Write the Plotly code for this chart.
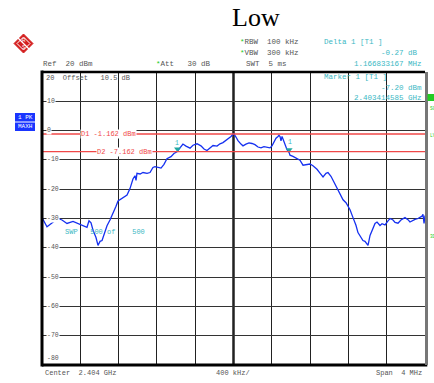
import plotly.graph_objects as go

# ---- data (frequency in MHz, level in dBm) ----
freq_mhz = [2402.000, 2402.052, 2402.104, 2402.167, 2402.209, 2402.261, 2402.324, 2402.376,
            2402.418, 2402.470, 2402.491, 2402.512, 2402.533, 2402.564, 2402.585, 2402.606,
            2402.627, 2402.658, 2402.679, 2402.710, 2402.741, 2402.773, 2402.794, 2402.836,
            2402.888, 2402.919, 2402.950, 2402.971, 2402.982, 2402.992, 2403.024, 2403.055,
            2403.097, 2403.128, 2403.159, 2403.180, 2403.211, 2403.243, 2403.274, 2403.305,
            2403.347, 2403.378, 2403.410, 2403.441, 2403.472, 2403.504, 2403.525, 2403.546,
            2403.577, 2403.619, 2403.660, 2403.692, 2403.723, 2403.754, 2403.786, 2403.828,
            2403.859, 2403.890, 2403.921, 2403.943, 2403.974, 2403.995, 2404.005, 2404.026,
            2404.047, 2404.078, 2404.099, 2404.130, 2404.162, 2404.193, 2404.224, 2404.256,
            2404.287, 2404.318, 2404.349, 2404.381, 2404.402, 2404.423, 2404.444, 2404.465,
            2404.475, 2404.486, 2404.496, 2404.507, 2404.517, 2404.538, 2404.559, 2404.581,
            2404.590, 2404.621, 2404.652, 2404.694, 2404.726, 2404.757, 2404.799, 2404.830,
            2404.872, 2404.903, 2404.935, 2404.966, 2404.987, 2405.018, 2405.039, 2405.060,
            2405.081, 2405.112, 2405.144, 2405.175, 2405.196, 2405.217, 2405.248, 2405.279,
            2405.300, 2405.321, 2405.352, 2405.373, 2405.405, 2405.426, 2405.446, 2405.478,
            2405.499, 2405.530, 2405.551, 2405.582, 2405.614, 2405.635, 2405.666, 2405.687,
            2405.718, 2405.749, 2405.791, 2405.822, 2405.843, 2405.875, 2405.896, 2405.927,
            2405.948, 2405.969, 2405.979, 2405.990, 2406.000]
level_dbm = [-29.7, -32.8, -31.5, -30.0, -30.5, -31.7, -31.0, -31.8,
             -32.4, -33.0, -30.8, -31.5, -34.0, -36.5, -39.2, -37.8,
             -37.5, -34.5, -32.5, -30.5, -28.4, -25.8, -24.0, -23.0,
             -22.0, -19.8, -16.5, -15.4, -17.0, -14.6, -14.8, -14.3,
             -14.6, -14.3, -12.6, -12.3, -12.5, -12.8, -11.5, -9.6,
             -8.9, -7.8, -7.2, -5.8, -4.6, -5.3, -5.8, -6.0,
             -5.0, -4.5, -5.2, -6.3, -6.8, -5.8, -5.1, -5.3,
             -4.5, -4.1, -3.4, -2.7, -2.0, -1.3, -1.16, -2.2,
             -3.4, -4.6, -5.2, -4.6, -4.2, -4.4, -4.8, -5.6,
             -5.9, -5.5, -5.8, -5.9, -5.2, -3.6, -2.6, -2.0,
             -1.6, -2.0, -3.5, -2.0, -2.8, -4.6, -6.5, -7.47,
             -8.4, -8.8, -9.3, -10.1, -11.8, -11.6, -11.4, -12.0,
             -13.2, -14.5, -15.8, -14.6, -14.3, -15.6, -17.0, -18.2,
             -19.5, -21.3, -23.6, -24.6, -25.6, -27.0, -29.7, -32.3,
             -34.8, -36.0, -37.5, -37.8, -39.2, -35.8, -34.0, -31.7,
             -31.2, -32.4, -31.8, -32.2, -30.8, -30.0, -30.5, -31.3,
             -31.6, -30.5, -29.7, -30.4, -31.2, -30.6, -30.3, -30.0,
             -29.5, -29.2, -28.6, -31.7, -29.0]

marker_freq = [2403.414585, 2404.581418]
marker_level = [-7.20, -7.47]
display_lines = [-1.162, -7.162]
display_labels = ["D1 -1.162 dBm", "D2 -7.162 dBm"]
y_ticks = [10, 0, -10, -20, -30, -40, -50, -60, -70]
y_tick_labels = ["10", "0", "-10", "-20", "-30", "-40", "-50", "-60", "-70"]

W, H = 434, 383
L, R, T, B = 42, 9, 72, 18
PW, PH = W - L - R, H - T - B


def px(x):
    return (x - L) / PW


def py(y):
    return (H - B - y) / PH


MONO = "Liberation Mono, Courier New, monospace"
CYAN = "#3bb8c4"
GRAY = "#555555"
RED = "#f04848"
GREEN = "#22cc22"

fig = go.Figure()

fig.add_trace(go.Scatter(x=freq_mhz, y=level_dbm, mode="lines",
                         line=dict(color="#1530f0", width=1.3), showlegend=False,
                         hoverinfo="skip"))
fig.add_trace(go.Scatter(x=marker_freq, y=[v + 0.9 for v in marker_level], mode="markers",
                         marker=dict(symbol="triangle-down", size=6, color="#20a8a0"),
                         showlegend=False, hoverinfo="skip"))

shapes = []
for v in display_lines:
    shapes.append(dict(type="line", xref="paper", yref="y", x0=0, x1=1, y0=v, y1=v,
                       line=dict(color=RED, width=1.3), layer="above"))
shapes.append(dict(type="line", xref="paper", yref="paper", x0=0.5, x1=0.5, y0=0, y1=1,
                   line=dict(color="#111111", width=2.4), layer="below"))
shapes.append(dict(type="line", xref="paper", yref="paper", x0=0, x1=0, y0=-0.005, y1=1.005,
                   line=dict(color="#000000", width=3)))
shapes.append(dict(type="line", xref="paper", yref="paper", x0=0, x1=1, y0=1, y1=1,
                   line=dict(color="#000000", width=2.5)))
shapes.append(dict(type="line", xref="paper", yref="paper", x0=0, x1=1.006, y0=0, y1=0,
                   line=dict(color="#000000", width=3)))
shapes.append(dict(type="line", xref="paper", yref="paper", x0=px(426.5), x1=px(426.5), y0=0, y1=1,
                   line=dict(color="#777777", width=3)))
# R&S logo
shapes.append(dict(type="path", xref="paper", yref="paper",
                   path=f"M {px(23.5)} {py(34)} L {px(33)} {py(43.5)} L {px(23.5)} {py(53)} L {px(14)} {py(43.5)} Z",
                   fillcolor="#d42020", line=dict(color="#d42020", width=1)))
shapes.append(dict(type="path", xref="paper", yref="paper",
                   path=f"M {px(23.5)} {py(37)} L {px(30)} {py(43.5)} L {px(23.5)} {py(50)} L {px(17)} {py(43.5)} Z",
                   fillcolor="rgba(0,0,0,0)", line=dict(color="white", width=1)))
shapes.append(dict(type="line", xref="paper", yref="paper", x0=px(17), y0=py(37), x1=px(30), y1=py(50),
                   line=dict(color="white", width=1.2)))
shapes.append(dict(type="rect", xref="paper", yref="paper", x0=px(427.5), x1=px(436), y0=py(101), y1=py(94),
                   fillcolor=GREEN, line=dict(width=0)))
shapes.append(dict(type="rect", xref="paper", yref="paper", x0=px(15), x1=px(35), y0=py(131), y1=py(113),
                   fillcolor="#1a35ff", line=dict(width=0)))
shapes.append(dict(type="line", xref="paper", yref="paper", x0=px(15), x1=px(35), y0=py(122), y1=py(122),
                   line=dict(color="white", width=1)))

ann = []


def txt(x, y, s, color=GRAY, size=7.5, xanchor="left", yanchor="middle", font=MONO, bg=None, xref="paper", yref="paper"):
    d = dict(x=x, y=y, xref=xref, yref=yref, text=s, showarrow=False, xanchor=xanchor,
             yanchor=yanchor, font=dict(family=font, size=size, color=color), borderpad=0)
    if bg:
        d["bgcolor"] = bg
    ann.append(d)


txt(px(256), py(17), "Low", color="#000000", size=26, xanchor="center",
    font="Liberation Serif, Times New Roman, serif")

txt(px(42), py(64), "Ref&nbsp;&nbsp;20&nbsp;dBm")
txt(px(155), py(64), "<span style='color:#22cc22'>*</span>Att&nbsp;&nbsp;&nbsp;30&nbsp;dB")
txt(px(239), py(42), "<span style='color:#22cc22'>*</span>RBW&nbsp;&nbsp;100&nbsp;kHz")
txt(px(239), py(53), "<span style='color:#22cc22'>*</span>VBW&nbsp;&nbsp;300&nbsp;kHz")
txt(px(245), py(64), "SWT&nbsp;&nbsp;5&nbsp;ms")
txt(px(323), py(42), "Delta&nbsp;1&nbsp;[T1&nbsp;]", color=CYAN)
txt(px(419), py(53), "-0.27&nbsp;dB", color=CYAN, xanchor="right")
txt(px(423), py(64), "1.166833167&nbsp;MHz", color=CYAN, xanchor="right")

txt(px(323), py(77), "Marker&nbsp;1&nbsp;[T1&nbsp;]", color=CYAN)
txt(px(423), py(88), "-7.20&nbsp;dBm", color=CYAN, xanchor="right")
txt(px(423), py(98), "2.403414585&nbsp;GHz", color=CYAN, xanchor="right")

txt(px(45), py(78), "20&nbsp;&nbsp;Offset&nbsp;&nbsp;&nbsp;10.5&nbsp;dB", size=7)
txt(px(64), py(232), "SWP&nbsp;&nbsp;&nbsp;500&nbsp;of&nbsp;&nbsp;&nbsp;&nbsp;500", color=CYAN, size=7)

for v, s in zip(y_ticks, y_tick_labels):
    txt(px(45.5), v, s, size=6.5, yref="y", bg="white")
txt(px(45.5), py(358), "-80", size=6.5)

txt(px(80), display_lines[0], display_labels[0], color=RED, size=7, bg="white", yref="y")
txt(px(96), display_lines[1], display_labels[1], color=RED, size=7, bg="white", yref="y")

txt(marker_freq[0], py(143), "1", color=CYAN, size=6.5, xanchor="center", xref="x")
txt(px(290), py(142), "1", color=CYAN, size=6.5, xanchor="center")

txt(px(44), py(373), "Center&nbsp;&nbsp;2.404&nbsp;GHz", size=7)
txt(px(233), py(373), "400&nbsp;kHz/", size=7, xanchor="center")
txt(px(423), py(373), "Span&nbsp;&nbsp;4&nbsp;MHz", size=7, xanchor="right")

txt(px(25), py(117.5), "1 PK", color="white", size=6, xanchor="center", font=MONO)
txt(px(25), py(126.5), "MAXH", color="white", size=6, xanchor="center", font=MONO)
txt(px(428.5), py(108), "SG", color=GREEN, size=4.5)
txt(px(428.5), py(135), "LV", color=GREEN, size=4.5)
txt(px(428.5), py(237), "3D", color=GREEN, size=4.5)
txt(px(23.5), py(40), "R", color="white", size=5, xanchor="center", font="Liberation Sans")
txt(px(23.5), py(47.5), "S", color="white", size=5, xanchor="center", font="Liberation Sans")

fig.update_layout(
    width=W, height=H, margin=dict(l=L, r=R, t=T, b=B),
    paper_bgcolor="white", plot_bgcolor="white",
    xaxis=dict(range=[2402, 2406], dtick=0.4, tick0=2402, showgrid=True, gridcolor="#222222",
               gridwidth=1.3, showticklabels=False, zeroline=False, showline=False, ticks=""),
    yaxis=dict(range=[-80, 20], dtick=10, tick0=-80, showgrid=True, gridcolor="#333333",
               gridwidth=1.3, showticklabels=False, zeroline=False, showline=False, ticks=""),
    shapes=shapes, annotations=ann,
)

fig.write_html("out.html")
